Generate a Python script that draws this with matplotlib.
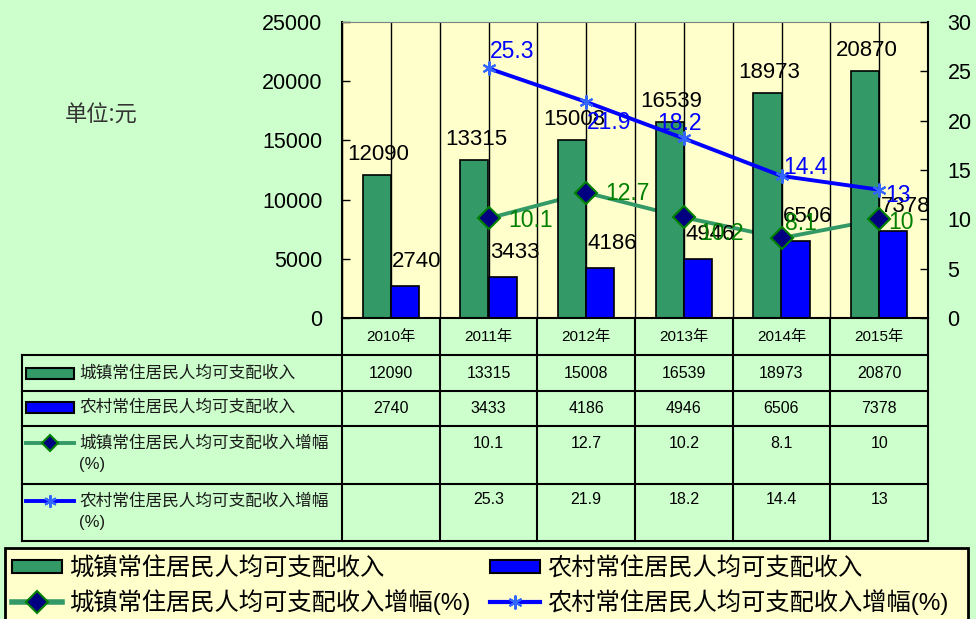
import matplotlib
matplotlib.use("Agg")
import matplotlib.pyplot as plt
import numpy as np
from matplotlib.patches import Rectangle, Patch
from matplotlib.lines import Line2D

plt.rcParams['font.family'] = ['Liberation Sans', 'Noto Sans CJK SC', 'DejaVu Sans']

# 数据
years = ['2010年', '2011年', '2012年', '2013年', '2014年', '2015年']
urban_income = [12090, 13315, 15008, 16539, 18973, 20870]
rural_income = [2740, 3433, 4186, 4946, 6506, 7378]
urban_growth = [None, 10.1, 12.7, 10.2, 8.1, 10]
rural_growth = [None, 25.3, 21.9, 18.2, 14.4, 13]

name_urban = '城镇常住居民人均可支配收入'
name_rural = '农村常住居民人均可支配收入'
name_urban_g = '城镇常住居民人均可支配收入增幅'
name_rural_g = '农村常住居民人均可支配收入增幅'

# couleurs
BG = '#CCFFCC'
PLOT_BG = '#FFFFCC'
GREEN = '#339966'
BLUE = '#0000FF'
LBL_GREEN = '#008000'
STAR_BLUE = '#3366FF'

# label offsets (pixels, right / down) for growth labels
rural_lbl_off = [None, (1, -18, 'left'), (1, 19, 'left'), (-4, -16, 'center'), (2, -10, 'left'), (6, 4, 'left')]
urban_lbl_off = [None, (20, 1, 'left'), (19, -1, 'left'), (15, 15, 'left'), (3, -16, 'left'), (9, 2, 'left')]

W, H = 976, 619
fig = plt.figure(figsize=(W / 100, H / 100), dpi=100)
fig.patch.set_facecolor(BG)

# zone du graphique
px_l, px_r, px_t, px_b = 342, 928, 22, 318
ax = fig.add_axes([px_l / W, 1 - px_b / H, (px_r - px_l) / W, (px_b - px_t) / H])
ax.set_facecolor(PLOT_BG)
ax2 = ax.twinx()

x = np.arange(len(years))
bw = 0.29
PX = 72 / 100  # px -> points

# grille verticale (centres + bords)
for xv in np.arange(-0.5, len(years), 0.5):
    ax.axvline(xv, color='black', lw=1.0, zorder=0.5)

ax.bar(x - bw / 2, urban_income, bw, color=GREEN, edgecolor='black', lw=1.2, zorder=2)
ax.bar(x + bw / 2, rural_income, bw, color=BLUE, edgecolor='black', lw=1.2, zorder=2)

gx = [i for i, v in enumerate(urban_growth) if v is not None]
gv = [v for v in urban_growth if v is not None]
rx = [i for i, v in enumerate(rural_growth) if v is not None]
rv = [v for v in rural_growth if v is not None]

# ligne verte derrière les barres (axe secondaire)
ax.plot(gx, gv, color=GREEN, lw=2.8, transform=ax2.transData, zorder=1)
ax2.plot(gx, gv, ls='none', marker='D', markersize=11, markerfacecolor='#000080',
         markeredgecolor=LBL_GREEN, markeredgewidth=1.5, zorder=3)
ax2.plot(rx, rv, color=BLUE, lw=2.8, marker=(6, 2, 0), markersize=10,
         markeredgecolor=STAR_BLUE, markeredgewidth=1.5, zorder=3)

ax.set_xlim(-0.5, len(years) - 0.5)
ax.set_ylim(0, 25000)
ax2.set_ylim(0, 30)
ax.set_yticks(range(0, 25001, 5000))
ax2.set_yticks(range(0, 31, 5))
ax.set_xticks([])

ax.tick_params(axis='y', direction='in', length=6, width=1, labelsize=15.5, pad=14)
ax2.tick_params(axis='y', direction='in', length=6, width=1, labelsize=15.5, pad=14)
for s in ['left', 'bottom']:
    ax.spines[s].set_color('black')
    ax.spines[s].set_linewidth(1.5)
ax.spines['top'].set_color('#808080')
ax.spines['right'].set_visible(False)
for s in ['left', 'top', 'bottom']:
    ax2.spines[s].set_visible(False)
ax2.spines['right'].set_color('black')
ax2.spines['right'].set_linewidth(1.5)

# étiquettes des barres
for i in range(len(years)):
    ax.annotate(str(urban_income[i]), (x[i] - bw / 2, urban_income[i]),
                xytext=(2 * PX, 15 * PX), textcoords='offset points',
                ha='center', va='baseline', fontsize=16, color='black', zorder=5)
    ax.annotate(str(rural_income[i]), (x[i] + bw / 2, rural_income[i]),
                xytext=(12 * PX, 19 * PX), textcoords='offset points',
                ha='center', va='baseline', fontsize=16, color='black', zorder=5)

for i, v in enumerate(rural_growth):
    if v is None:
        continue
    dx, dy, ha = rural_lbl_off[i]
    ax2.annotate(f'{v:g}', (i, v), xytext=(dx * PX, -(dy + 8) * PX), textcoords='offset points',
                 ha=ha, va='baseline', fontsize=16.5, color=BLUE, zorder=6)
for i, v in enumerate(urban_growth):
    if v is None:
        continue
    dx, dy, ha = urban_lbl_off[i]
    ax2.annotate(f'{v:g}', (i, v), xytext=(dx * PX, -(dy + 8) * PX), textcoords='offset points',
                 ha=ha, va='baseline', fontsize=16.5, color=LBL_GREEN, zorder=6)

fig.text(101 / W, 1 - 115 / H, '单位:元', ha='center', va='center', fontsize=16,
         color='#333333', family=['Noto Sans CJK SC'])

# tableau de données
tb_l, tb_b = 22, 541
tab = fig.add_axes([tb_l / W, 1 - tb_b / H, (px_r - tb_l) / W, (tb_b - px_b) / H])
tab.axis('off')
unit = (px_r - px_l) / len(years)
x_left = -0.5 - (px_l - tb_l) / unit
tab.set_xlim(x_left, len(years) - 0.5)
rows = [0, 37, 73, 108, 166, 223]
tab.set_ylim(rows[-1], 0)

lw_t = 1.5
for xv in np.arange(-0.5, len(years) + 0.5, 1):
    tab.plot([xv, xv], [rows[0], rows[-1]], color='black', lw=lw_t, clip_on=False)
tab.plot([x_left, x_left], [rows[1], rows[-1]], color='black', lw=lw_t, clip_on=False)
for yv in rows[1:]:
    tab.plot([x_left, len(years) - 0.5], [yv, yv], color='black', lw=lw_t, clip_on=False)

for i, yr in enumerate(years):
    tab.text(i, (rows[0] + rows[1]) / 2, yr, ha='center', va='center', fontsize=11)
    tab.text(i, (rows[1] + rows[2]) / 2, str(urban_income[i]), ha='center', va='center', fontsize=11.5)
    tab.text(i, (rows[2] + rows[3]) / 2, str(rural_income[i]), ha='center', va='center', fontsize=11.5)
    if urban_growth[i] is not None:
        tab.text(i, rows[3] + 17, f'{urban_growth[i]:g}', ha='center', va='center', fontsize=11.5)
    if rural_growth[i] is not None:
        tab.text(i, rows[4] + 16, f'{rural_growth[i]:g}', ha='center', va='center', fontsize=11.5)

key_x0 = x_left + 4 / unit
key_x1 = x_left + 52 / unit
txt_x = x_left + 57 / unit
tab.add_patch(Rectangle((key_x0, 55 - 5.5), key_x1 - key_x0, 11, facecolor=GREEN,
                        edgecolor='black', lw=1.5, clip_on=False))
tab.add_patch(Rectangle((key_x0, 89 - 5.5), key_x1 - key_x0, 11, facecolor=BLUE,
                        edgecolor='black', lw=1.5, clip_on=False))
tab.plot([key_x0, key_x1], [rows[3] + 17] * 2, color=GREEN, lw=2.8, clip_on=False)
tab.plot([(key_x0 + key_x1) / 2], [rows[3] + 17], marker='D', markersize=8, markerfacecolor='#000080',
         markeredgecolor=LBL_GREEN, markeredgewidth=1.5, clip_on=False)
tab.plot([key_x0, key_x1], [rows[4] + 17] * 2, color=BLUE, lw=2.8, clip_on=False)
tab.plot([(key_x0 + key_x1) / 2], [rows[4] + 17], marker=(6, 2, 0), markersize=9,
         markeredgecolor=STAR_BLUE, markeredgewidth=1.5, clip_on=False)

tab.text(txt_x, 55, name_urban, ha='left', va='center', fontsize=12, color='#1a1a1a')
tab.text(txt_x, 89, name_rural, ha='left', va='center', fontsize=12, color='#1a1a1a')
tab.text(txt_x, rows[3] + 17, name_urban_g, ha='left', va='center', fontsize=12, color='#1a1a1a')
tab.text(txt_x, rows[3] + 39, '(%)', ha='left', va='center', fontsize=12, color='#1a1a1a')
tab.text(txt_x, rows[4] + 17, name_rural_g, ha='left', va='center', fontsize=12, color='#1a1a1a')
tab.text(txt_x, rows[4] + 39, '(%)', ha='left', va='center', fontsize=12, color='#1a1a1a')

# légende en bas
fig.patches.append(Rectangle((5 / W, -20 / H), 963 / W, (20 + H - 548) / H, transform=fig.transFigure,
                             facecolor=PLOT_BG, edgecolor='black', lw=2, zorder=0))
handles = [
    Patch(facecolor=GREEN, edgecolor='black', lw=1.5),
    Line2D([], [], color=GREEN, lw=4, marker='D', markersize=11, markerfacecolor='#000080',
           markeredgecolor=LBL_GREEN, markeredgewidth=1.5),
    Patch(facecolor=BLUE, edgecolor='black', lw=1.5),
    Line2D([], [], color=BLUE, lw=3, marker=(6, 2, 0), markersize=10,
           markeredgecolor=STAR_BLUE, markeredgewidth=1.5),
]
labels = [name_urban, name_urban_g + '(%)', name_rural, name_rural_g + '(%)']
fig.legend(handles, labels, loc='upper left', bbox_to_anchor=(12 / W, 1 - 557 / H), ncol=2,
           frameon=False, fontsize=17.5, handlelength=2.06, handleheight=0.5, handletextpad=0.3,
           columnspacing=0.8, labelspacing=0.38, borderpad=0, borderaxespad=0)

fig.savefig('out.png', dpi=100, facecolor=BG)
